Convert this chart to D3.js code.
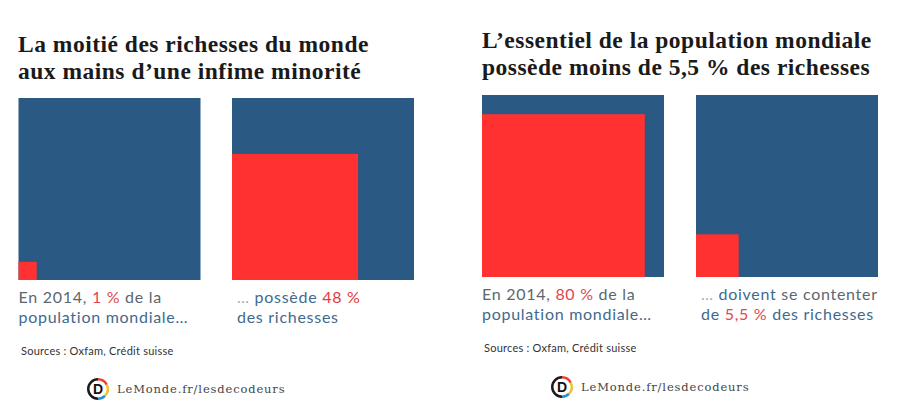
<!DOCTYPE html>
<html><head><meta charset="utf-8">
<script src="https://cdn.jsdelivr.net/npm/d3@7"></script>
<style>html,body{margin:0;padding:0;background:#fff}svg{display:block}</style>
</head><body><svg id="c" width="900" height="413"></svg>
<script>
const shares=[1,48,80,5.5];
const squareX=[18.5,232,482,696];
const squareY=[98,98,95,95];
const captions=[
 [[["En 2014, ","#5b6770"],["1 %","#e0464f"],[" de la","#5b6770"]],[["population mondiale…","#3f6a8e"]]],
 [[["… ","#aab"],["possède ","#3f6a8e"],["48 %","#e8383c"]],[["des richesses","#3f6a8e"]]],
 [[["En 2014, ","#5b6770"],["80 %","#e0464f"],[" de la","#5b6770"]],[["population mondiale…","#3f6a8e"]]],
 [[["… ","#aab"],["doivent ","#3f6a8e"],["se contenter","#5b6770"]],[["de ","#3f6a8e"],["5,5 %","#e0464f"],[" des richesses","#3f6a8e"]]]
];
const titles=[["La moitié des richesses du monde","aux mains d’une infime minorité"],["L’essentiel de la population mondiale","possède moins de 5,5 % des richesses"]];
const titleX=[18,482],titleY=[52,48];
const sourceText="Sources : Oxfam, Crédit suisse";
const sourceX=[21,484],sourceY=[355,352];
const brand="LeMonde.fr/lesdecodeurs";
const logoX=[98,562],logoY=[389,387];

const svg=d3.select("#c");
const side=182;
const scale=d3.scaleSqrt().domain([0,100]).range([0,side]);
const BLUE="#2a5a84",RED="#ff3131";

shares.forEach((v,i)=>{
  const x=squareX[i],y=squareY[i];
  svg.append("rect").attr("x",x).attr("y",y).attr("width",side).attr("height",side).attr("fill",BLUE);
  const s=scale(v);
  svg.append("rect").attr("x",x).attr("y",y+side-s).attr("width",s).attr("height",s).attr("fill",RED);
  captions[i].forEach((line,j)=>{
    const t=svg.append("text").attr("x",x+(i%2?5:0)).attr("y",y+side+23+j*20)
      .attr("font-family","Lato").attr("font-size",16).attr("letter-spacing",0.72);
    line.forEach(p=>t.append("tspan").attr("fill",p[1]).text(p[0]));
  });
});
titles.forEach((ls,i)=>ls.forEach((l,j)=>{
  svg.append("text").attr("x",titleX[i]).attr("y",titleY[i]+j*27)
   .attr("font-family","Liberation Serif").attr("font-weight","bold").attr("font-size",23.5).attr("letter-spacing",0.5).attr("fill","#1a1a1a").text(l);
}));
sourceX.forEach((x,i)=>{
  svg.append("text").attr("x",x).attr("y",sourceY[i]).attr("font-family","Lato").attr("font-size",11).attr("letter-spacing",0.24).attr("fill","#333").text(sourceText);
  const g=svg.append("g").attr("transform",`translate(${logoX[i]},${logoY[i]})`);
  const arc=d3.arc().innerRadius(8.5).outerRadius(11);
  [["#1b1b1b",Math.PI,Math.PI*2],["#e8412f",0,Math.PI*0.35],["#f2c12e",Math.PI*0.35,Math.PI*0.75],["#2b8fd0",Math.PI*0.75,Math.PI]].forEach(a=>
    g.append("path").attr("d",arc({startAngle:a[1],endAngle:a[2]})).attr("fill",a[0]));
  g.append("text").attr("text-anchor","middle").attr("y",5).attr("font-family","Liberation Sans").attr("font-weight","bold").attr("font-size",14).attr("fill","#111").text("D");
  svg.append("text").attr("x",logoX[i]+19).attr("y",logoY[i]+4).attr("font-family","DejaVu Serif").attr("font-size",11.5).attr("letter-spacing",0.85).attr("fill","#444").text(brand);
});
</script></body></html>
